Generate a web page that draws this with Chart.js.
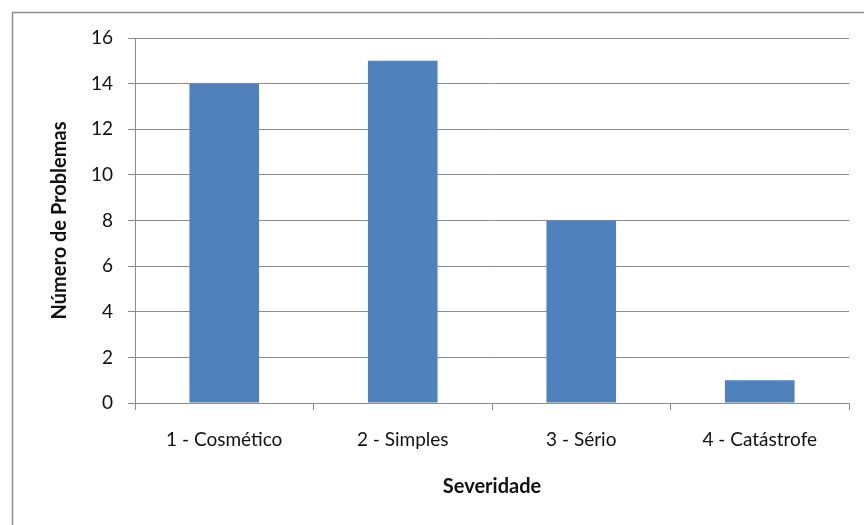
<!DOCTYPE html>
<html>
<head>
<meta charset="utf-8">
<script src="https://cdn.jsdelivr.net/npm/chart.js@4/dist/chart.umd.min.js"></script>
<style>
  html, body { margin: 0; padding: 0; background: #ffffff; }
  #wrap { position: relative; width: 864px; height: 525px; }
</style>
</head>
<body>
<div id="wrap"><canvas id="c" width="864" height="525"></canvas></div>
<script>
// Problemas encontrados por nível de severidade
const categorias = ['1 - Cosmético', '2 - Simples', '3 - Sério', '4 - Catástrofe'];
const problemas = [14, 15, 8, 1];
const yTicks = [0, 2, 4, 6, 8, 10, 12, 14, 16];

const FONT = 'Lato, "Open Sans", sans-serif';
const GRID = '#8c8c8c';
const TEXT = '#111111';

// Moldura cinza em volta do gráfico
const moldura = {
  id: 'moldura',
  beforeDraw(chart) {
    const ctx = chart.ctx;
    ctx.save();
    ctx.fillStyle = '#ffffff';
    ctx.fillRect(0, 0, chart.width, chart.height);
    ctx.strokeStyle = '#8f8f8f';
    ctx.lineWidth = 1.5;
    ctx.strokeRect(12.5, 12.5, 900, 600);
    ctx.restore();
  }
};

new Chart(document.getElementById('c'), {
  type: 'bar',
  data: {
    labels: categorias,
    datasets: [{
      data: problemas,
      backgroundColor: '#4f81bd',
      borderWidth: 0,
      categoryPercentage: 1.0,
      barPercentage: 0.39
    }]
  },
  options: {
    responsive: false,
    animation: false,
    devicePixelRatio: 1,
    layout: { padding: { left: 20, right: 15, top: 38, bottom: 20 } },
    plugins: { legend: { display: false }, tooltip: { enabled: false } },
    scales: {
      x: {
        grid: { drawOnChartArea: false, drawTicks: true, tickLength: 7, color: GRID, lineWidth: 1 },
        border: { display: true, color: GRID, width: 1 },
        ticks: { color: TEXT, font: { family: FONT, size: 19 }, padding: 18, maxRotation: 0 },
        title: {
          display: true, text: 'Severidade', color: TEXT,
          font: { family: FONT, size: 20, weight: 'bold' },
          padding: { top: 0, bottom: 6 }
        },
        afterFit(scale) { scale.height = 525 - 20 - 403; }
      },
      y: {
        min: 0, max: 16,
        afterBuildTicks(scale) { scale.ticks = yTicks.map(v => ({ value: v })); },
        grid: { drawTicks: true, tickLength: 7, color: GRID, lineWidth: 1 },
        border: { display: true, color: GRID, width: 1 },
        ticks: { color: TEXT, font: { family: FONT, size: 19 }, padding: 15 },
        title: {
          display: true, text: 'Número de Problemas', color: TEXT,
          font: { family: FONT, size: 20, weight: 'bold' },
          padding: { top: 28, bottom: 0 }
        },
        afterFit(scale) { scale.width = 135 - 20; }
      }
    }
  },
  plugins: [moldura]
});
</script>
</body>
</html>
